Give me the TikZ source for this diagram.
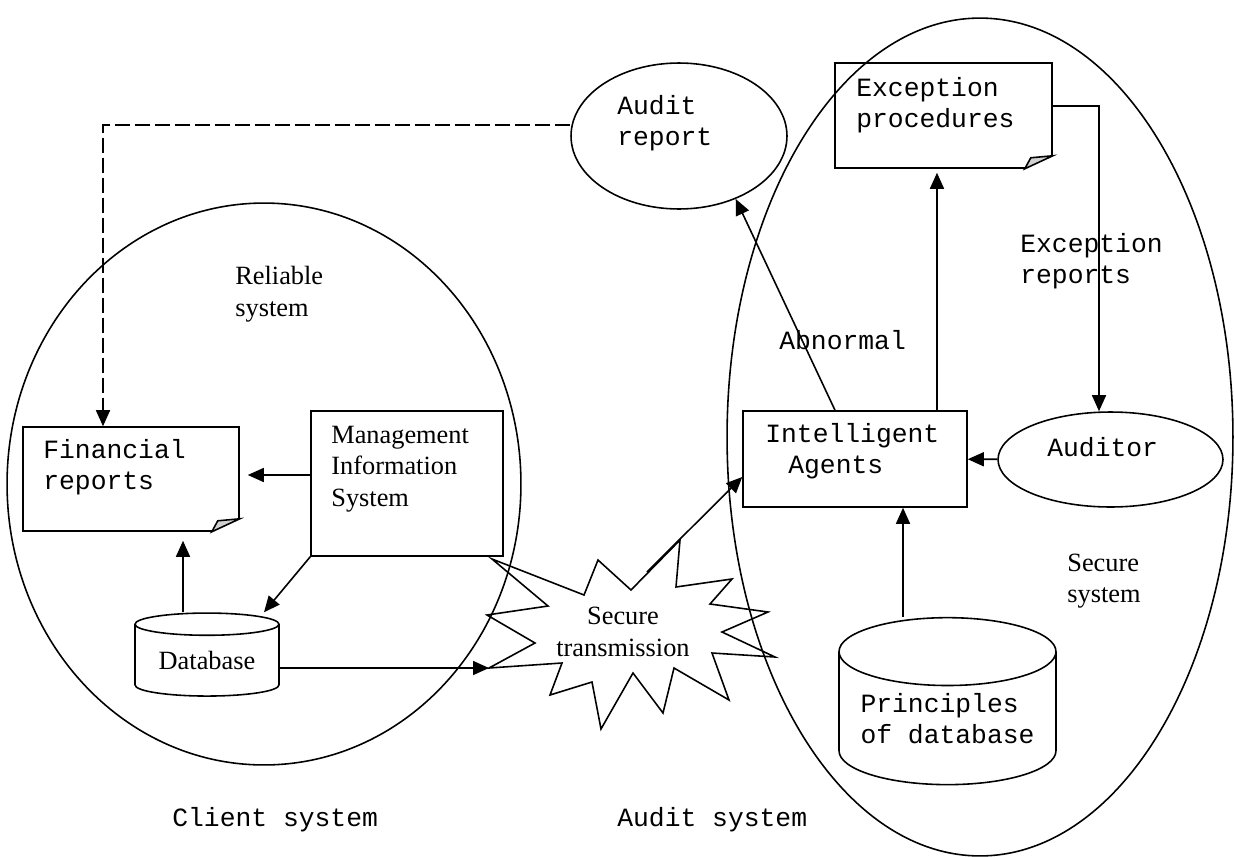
\documentclass[tikz,border=0pt]{standalone}
\usepackage{fontspec}
\setmainfont{Liberation Serif}
\setmonofont{Liberation Mono}
\usetikzlibrary{arrows.meta,shapes.geometric}

% dog-eared corner for the document boxes
\newcommand{\docfold}[1]{%
  \fill[white] ([xshift=-0.56cm]#1.south east) -- ([shift={(-0.56cm,-0.05cm)}]#1.south east)
    -- ([shift={(0.05cm,-0.05cm)}]#1.south east) -- ([shift={(0.05cm,0.26cm)}]#1.south east)
    -- ([yshift=0.26cm]#1.south east) -- cycle;
  \draw[line width=0.9pt, fill=black!18] ([xshift=-0.56cm]#1.south east) -- ([yshift=0.26cm]#1.south east)
    -- ([shift={(-0.44cm,0.22cm)}]#1.south east) -- cycle;}

\begin{document}
\begin{tikzpicture}
  [ x=0.02cm, y=-0.02cm,
    box/.style={rectangle, draw=black, line width=0.9pt, inner sep=0pt},
    oval/.style={ellipse, draw=black, line width=0.9pt, inner sep=0pt},
    drum/.style={cylinder, shape border rotate=90, draw=black, line width=0.9pt, inner sep=0pt},
    mono/.style={font=\fontsize{15}{18}\selectfont\ttfamily, inner sep=0pt, align=left, anchor=west},
    serif/.style={font=\fontsize{15}{18}\selectfont, inner sep=0pt, align=left, anchor=west},
    arr/.style={-{Triangle[length=0.32cm,width=0.28cm]}, line width=0.9pt}
  ]
  \useasboundingbox (0,0) rectangle (1234,856);

  % the two systems
  \node[oval, minimum width=10.28cm, minimum height=11.24cm] (client) at (264,484) {};
  \node[oval, minimum width=10.12cm, minimum height=16.76cm] (audit) at (980,437) {};

  % client side
  \node[box, minimum width=4.32cm, minimum height=2.08cm] (finrep) at (131,479) {};
  \docfold{finrep}
  \node[box, minimum width=3.84cm, minimum height=2.9cm] (mis) at (407,483.5) {};
  \node[drum, aspect=0.23, minimum width=2.88cm, minimum height=1.66cm,
        font=\fontsize{15}{18}\selectfont] (db) at (207,660.5) {Database};

  % audit side
  \node[oval, minimum width=4.32cm, minimum height=2.92cm] (auditrep) at (679,136) {};
  \node[box, minimum width=4.34cm, minimum height=2.1cm] (exproc) at (943.5,115.5) {};
  \docfold{exproc}
  \node[box, minimum width=4.48cm, minimum height=1.92cm] (agents) at (855,459) {};
  \node[oval, minimum width=4.5cm, minimum height=1.9cm] (auditor) at (1110.5,459.5) {};
  \node[drum, aspect=0.39, minimum width=4.34cm, minimum height=3.34cm, align=left,
        font=\fontsize{15}{18}\selectfont\ttfamily] (princ) at (947.5,718.5) {Principles\\of database};

  % secure transmission
  \draw[line width=0.9pt] (492,559) -- (584,595) -- (598,560) -- (631,590) -- (680,540)
    -- (676,587) -- (732,579) -- (710,604) -- (768,612) -- (722,632) -- (775,657)
    -- (712,653) -- (729,700) -- (674,668) -- (663,713) -- (633,673) -- (601,729)
    -- (592,682) -- (550,695) -- (562,663) -- (489,668) coordinate (sbw) -- (535,643)
    -- (487,615) -- (548,606) -- cycle;
  \coordinate (sbn) at (647,572);

  % texts
  \node[mono] (finrep-t) at (43,467) {Financial\\reports};
  \node[serif] (mis-t) at (331,469) {Management\\Information\\System};
  \node[mono] (auditrep-t) at (617,123) {Audit\\report};
  \node[mono] (exproc-t) at (856,105) {Exception\\procedures};
  \node[mono] (agents-t) at (765,451) {Intelligent\\\hspace*{0.46cm}Agents};
  \node[mono] (auditor-t) at (1047,447) {Auditor};
  \node[mono] (exrep) at (1020,261) {Exception\\reports};
  \node[mono] (abnormal) at (779,340) {Abnormal};
  \node[serif] (reliable) at (235,294) {Reliable\\system};
  \node[serif] (secure) at (1067,581) {Secure\\system};
  \node[serif, anchor=center, align=center] (sectrans) at (623,632) {Secure\\transmission};
  \node[mono] (clientlbl) at (172,820) {Client system};
  \node[mono] (auditlbl) at (617,820) {Audit system};

  % flows
  \draw[arr, shorten >=0.16cm] ([yshift=0.17cm]mis.west) -- ([yshift=0.08cm]finrep.east);
  \draw[arr] (mis.south west) -- ([xshift=1.14cm]db.north);
  \draw[arr, shorten >=0.18cm] ([xshift=-0.48cm]db.north) -- ([xshift=-0.48cm]db.north |- finrep.south);
  \draw[arr] (db.east |- sbw) -- (sbw);
  \draw[arr] (sbn) -- ([yshift=-0.36cm]agents.west);
  \draw[arr] ([xshift=-0.89cm]princ.north) -- ([xshift=-0.89cm]princ.north |- agents.south);
  \draw[arr] ([xshift=-0.4cm]agents.north) -- (auditrep.312);
  \draw[arr, shorten >=0.08cm] ([xshift=1.64cm]agents.north) -- ([xshift=1.64cm]agents.north |- exproc.south);
  \draw[arr] ([yshift=0.19cm]exproc.east) -| ([xshift=-0.23cm]auditor.north);
  \draw[arr] (auditor) -- (agents);
  \draw[arr, dash pattern=on 0.3cm off 0.1cm] ([yshift=0.22cm]auditrep.west) -| ([xshift=-0.56cm]finrep.north);
\end{tikzpicture}
\end{document}
